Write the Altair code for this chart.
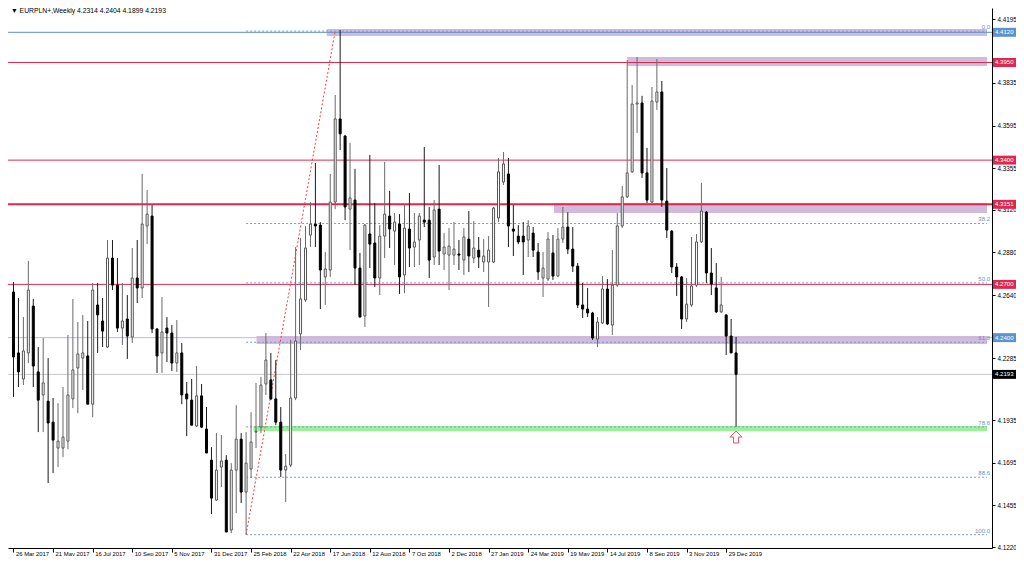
import altair as alt
import pandas as pd

# ---------------- data (EURPLN+ weekly) ----------------
open_ = [4.2657, 4.2314, 4.2167, 4.2314, 4.2578, 4.2207, 4.2077, 4.2042, 4.1924, 4.1778,
         4.1778, 4.1817, 4.2055, 4.2229, 4.2285, 4.2297, 4.2025, 4.2584, 4.2494, 4.2347,
         4.2848, 4.2696, 4.2454, 4.2505, 4.2404, 4.2736, 4.2680, 4.3029, 4.3085, 4.2449,
         4.2314, 4.2454, 4.2426, 4.2257, 4.2314, 4.2083, 4.2048, 4.1902, 4.2072, 4.1885,
         4.1710, 4.1485, 4.1671, 4.1710, 4.1316, 4.1654, 4.1828, 4.1530, 4.1660, 4.1868,
         4.1896, 4.2139, 4.2162, 4.2055, 4.1924, 4.1654, 4.1682, 4.2060, 4.2421, 4.2612,
         4.2978, 4.3040, 4.3034, 4.2742, 4.2781, 4.3164, 4.3632, 4.3536, 4.3124, 4.3175,
         4.2792, 4.2522, 4.2984, 4.2933, 4.2736, 4.2972, 4.3085, 4.3000, 4.3040, 4.2753,
         4.3012, 4.2910, 4.2950, 4.3062, 4.3062, 4.2854, 4.3124, 4.2871, 4.2865, 4.2865,
         4.2871, 4.2837, 4.2955, 4.2848, 4.2893, 4.2826, 4.2826, 4.2826, 4.3074, 4.3277,
         4.3322, 4.3012, 4.2972, 4.2972, 4.2950, 4.2989, 4.2882, 4.2736, 4.2730, 4.2877,
         4.2747, 4.2955, 4.3023, 4.2899, 4.2803, 4.2584, 4.2561, 4.2539, 4.2392, 4.2483,
         4.2674, 4.2471, 4.2696, 4.3029, 4.3193, 4.3334, 4.3716, 4.3722, 4.3328, 4.3164,
         4.3727, 4.3784, 4.3169, 4.3000, 4.2798, 4.2742, 4.2505, 4.2584, 4.2696, 4.2939,
         4.3107, 4.2764, 4.2680, 4.2545, 4.2528, 4.2409, 4.2314]
high = [4.2713, 4.2623, 4.2516, 4.2832, 4.2618, 4.2347, 4.2398, 4.2285, 4.2060, 4.2031,
        4.2122, 4.2415, 4.2618, 4.2488, 4.2528, 4.2494, 4.2708, 4.2708, 4.2623, 4.2950,
        4.2950, 4.2848, 4.2708, 4.2640, 4.2905, 4.2950, 4.3322, 4.3232, 4.3147, 4.2452,
        4.2629, 4.2516, 4.2471, 4.2499, 4.2370, 4.2150, 4.2167, 4.2240, 4.2139, 4.2009,
        4.1783, 4.1862, 4.1851, 4.1738, 4.1693, 4.2020, 4.1862, 4.1868, 4.1980, 4.2145,
        4.2179, 4.2426, 4.2314, 4.2274, 4.2009, 4.1744, 4.2387, 4.2910, 4.2961, 4.3029,
        4.3164, 4.3384, 4.3051, 4.2882, 4.3322, 4.3767, 4.4133, 4.3540, 4.3497, 4.3351,
        4.2877, 4.3040, 4.3429, 4.3158, 4.3034, 4.3390, 4.3227, 4.3102, 4.3096, 4.3147,
        4.3215, 4.3102, 4.3102, 4.3474, 4.3136, 4.3175, 4.3373, 4.2989, 4.3017, 4.3051,
        4.2950, 4.3017, 4.3113, 4.3057, 4.2967, 4.2955, 4.2972, 4.3136, 4.3412, 4.3446,
        4.3412, 4.3147, 4.3034, 4.3051, 4.3062, 4.3023, 4.2933, 4.2882, 4.2995, 4.2978,
        4.3017, 4.3136, 4.3107, 4.3023, 4.2820, 4.2708, 4.2680, 4.2545, 4.2516, 4.2747,
        4.2730, 4.2893, 4.3102, 4.3255, 4.3964, 4.3823, 4.3981, 4.3762, 4.3469, 4.3812,
        4.3970, 4.3846, 4.3356, 4.3006, 4.2820, 4.2747, 4.2736, 4.2967, 4.2984, 4.3272,
        4.3113, 4.2905, 4.2820, 4.2742, 4.2530, 4.2505, 4.2404]
low = [4.2066, 4.2122, 4.2133, 4.2257, 4.2122, 4.1868, 4.1868, 4.1581, 4.1637, 4.1671,
       4.1727, 4.1772, 4.2003, 4.1975, 4.2105, 4.2025, 4.1952, 4.2314, 4.2347, 4.2342,
       4.2668, 4.2432, 4.2359, 4.2280, 4.2370, 4.2595, 4.2623, 4.2927, 4.2426, 4.2201,
       4.2201, 4.2263, 4.2212, 4.2207, 4.2025, 4.1845, 4.1907, 4.1896, 4.1890, 4.1750,
       4.1406, 4.1480, 4.1558, 4.1305, 4.1299, 4.1412, 4.1468, 4.1290, 4.1609, 4.1778,
       4.1862, 4.2077, 4.2048, 4.1907, 4.1615, 4.1474, 4.1671, 4.2048, 4.2330, 4.2601,
       4.2910, 4.2910, 4.2561, 4.2584, 4.2742, 4.3124, 4.3457, 4.3062, 4.2893, 4.2696,
       4.2516, 4.2460, 4.2792, 4.2685, 4.2640, 4.2848, 4.2905, 4.2809, 4.2646, 4.2651,
       4.2798, 4.2798, 4.2809, 4.3023, 4.2736, 4.2809, 4.2809, 4.2781, 4.2668, 4.2809,
       4.2781, 4.2753, 4.2770, 4.2820, 4.2792, 4.2770, 4.2573, 4.2820, 4.3051, 4.3260,
       4.2910, 4.2860, 4.2927, 4.2753, 4.2854, 4.2854, 4.2725, 4.2629, 4.2719, 4.2725,
       4.2742, 4.2933, 4.2871, 4.2770, 4.2567, 4.2511, 4.2516, 4.2387, 4.2347, 4.2477,
       4.2471, 4.2415, 4.2685, 4.3017, 4.3187, 4.3328, 4.3553, 4.3300, 4.3158, 4.3158,
       4.3683, 4.3136, 4.2961, 4.2764, 4.2635, 4.2449, 4.2488, 4.2573, 4.2685, 4.2933,
       4.2708, 4.2640, 4.2539, 4.2539, 4.2302, 4.2314, 4.1899]
close = [4.2291, 4.2207, 4.2325, 4.2668, 4.2240, 4.2048, 4.2145, 4.1919, 4.1823, 4.1817,
         4.1840, 4.2077, 4.2218, 4.2308, 4.2314, 4.2025, 4.2668, 4.2528, 4.2437, 4.2848,
         4.2696, 4.2454, 4.2494, 4.2409, 4.2736, 4.2680, 4.3040, 4.3096, 4.2449, 4.2297,
         4.2432, 4.2426, 4.2257, 4.2314, 4.2077, 4.2055, 4.1907, 4.2072, 4.1896, 4.1750,
         4.1496, 4.1654, 4.1705, 4.1305, 4.1654, 4.1828, 4.1530, 4.1693, 4.1812, 4.1873,
         4.2133, 4.2274, 4.2055, 4.1924, 4.1654, 4.1676, 4.2060, 4.2381, 4.2618, 4.2905,
         4.3040, 4.3029, 4.2781, 4.2787, 4.3164, 4.3632, 4.3548, 4.3136, 4.3187, 4.2792,
         4.2516, 4.3034, 4.2927, 4.2736, 4.2972, 4.3096, 4.3012, 4.3051, 4.2742, 4.3017,
         4.2905, 4.2939, 4.3085, 4.3051, 4.2837, 4.3119, 4.2888, 4.2910, 4.2916, 4.2899,
         4.2865, 4.2967, 4.2860, 4.2905, 4.2854, 4.2860, 4.2893, 4.3130, 4.3334, 4.3379,
         4.3029, 4.3000, 4.2939, 4.2939, 4.3029, 4.2893, 4.2770, 4.2792, 4.2955, 4.2747,
         4.2955, 4.3023, 4.2899, 4.2803, 4.2584, 4.2561, 4.2539, 4.2398, 4.2488, 4.2674,
         4.2477, 4.2696, 4.3029, 4.3193, 4.3328, 4.3716, 4.3722, 4.3328, 4.3175, 4.3733,
         4.3784, 4.3175, 4.3006, 4.2798, 4.2742, 4.2505, 4.2589, 4.2691, 4.2939, 4.3113,
         4.2764, 4.2702, 4.2545, 4.2584, 4.2409, 4.2314, 4.2193]

# x axis: one tick every 8 weekly bars (bar 0 = week of 26 Mar 2017)
x_tick_values = list(range(0, 145, 8))
x_tick_labels = ["26 Mar 2017", "21 May 2017", "16 Jul 2017", "10 Sep 2017", "5 Nov 2017",
                 "31 Dec 2017", "25 Feb 2018", "22 Apr 2018", "17 Jun 2018", "12 Aug 2018",
                 "7 Oct 2018", "2 Dec 2018", "27 Jan 2019", "24 Mar 2019", "19 May 2019",
                 "14 Jul 2019", "8 Sep 2019", "3 Nov 2019", "29 Dec 2019"]
y_tick_values = [4.4195, 4.4075, 4.3835, 4.3715, 4.3595, 4.3475, 4.3355, 4.3240, 4.3120,
                 4.3000, 4.2880, 4.2760, 4.2640, 4.2520, 4.2285, 4.2050, 4.1935, 4.1815,
                 4.1695, 4.1575, 4.1455, 4.1335, 4.1220]

# horizontal levels and their right-side price tags
level_price = [4.4120, 4.3950, 4.3400, 4.3151, 4.2700, 4.2400, 4.2193]
level_kind = ["blue", "red", "red", "red2", "red", "blue2", "price"]

# shaded zones (start bar, bottom, top)
zone_start = [63.3, 124.0, 109.2, 49.1, 48.5]
zone_low = [4.4099, 4.3930, 4.3102, 4.2364, 4.1874]
zone_high = [4.4139, 4.3981, 4.3158, 4.2409, 4.1902]
zone_kind = ["purple", "purple", "purple", "purple", "green"]

# Fibonacci retracement anchors (bar, price)
fib_bar = [47, 65]
fib_price = [4.1290, 4.4127]
fib_ratio = [0.0, 38.2, 50.0, 61.8, 78.6, 88.6, 100.0]

arrow_bar = [146]
arrow_price = [4.1840]

title_text = "▼ EURPLN+,Weekly  4.2314 4.2404 4.1899 4.2193"

# ---------------- layout ----------------
W, H = 984, 540
X_MIN = -0.1
X_MAX = X_MIN + W / 5.0
Y_MIN, Y_MAX = 4.1215, 4.4257
FONT = "Liberation Sans"

xs = alt.Scale(domain=[X_MIN, X_MAX], nice=False, zero=False)
ys = alt.Scale(domain=[Y_MIN, Y_MAX], nice=False, zero=False)

n = len(open_)
candles = pd.DataFrame({"i": list(range(n)), "o": open_, "h": high, "l": low, "c": close})

lab_js = "[" + ",".join("'%s'" % s for s in x_tick_labels) + "]"
x_axis = alt.Axis(values=x_tick_values, labelExpr=lab_js + "[round(datum.value / 8)]",
                  labelAlign="left", labelBaseline="top", labelFont=FONT, labelFontSize=5.9,
                  labelColor="black", tickColor="black", tickSize=4, labelPadding=-2,
                  labelOffset=2, domainColor="black", grid=False, title=None, labelFlush=False,
                  labelOverlap=False)
y_axis = alt.Axis(orient="right", values=y_tick_values, format=".4f", labelFont=FONT,
                  labelFontSize=6.3, labelColor="black", tickColor="black", tickSize=3,
                  labelPadding=2, domainColor="black", grid=False, title=None,
                  labelOverlap=False, labelFlush=False)

kind_colors = {"blue": "#5a93cf", "red": "#e0284f", "red2": "#e0284f", "blue2": "#a9c4e2",
               "price": "#c8c8c8", "purple": "#cdb2d9", "green": "#8ef08e"}
tag_colors = {"blue": "#5a93cf", "red": "#e0284f", "red2": "#e0284f", "blue2": "#5a93cf",
              "price": "#000000"}

levels = pd.DataFrame({"price": level_price, "kind": level_kind})
levels["color"] = [kind_colors[k] for k in level_kind]
levels["tag"] = [tag_colors[k] for k in level_kind]
levels["w"] = [2 if k == "red2" else 1 for k in level_kind]
levels["label"] = ["%.4f" % p for p in level_price]

zones = pd.DataFrame({"start": zone_start, "lo": zone_low, "hi": zone_high, "kind": zone_kind})
zones["end"] = X_MAX
zones["color"] = [kind_colors[k] for k in zone_kind]

f_hi, f_lo = fib_price[1], fib_price[0]
fib = pd.DataFrame({"ratio": fib_ratio})
fib["price"] = [f_hi - (f_hi - f_lo) * r / 100.0 for r in fib_ratio]
fib["start"] = fib_bar[0]
fib["end"] = X_MAX
fib["label"] = ["%.1f" % r for r in fib_ratio]

trend = pd.DataFrame({"i": fib_bar, "p": fib_price})
arrow = pd.DataFrame({"i": arrow_bar, "p": arrow_price})
title_df = pd.DataFrame({"t": [title_text]})

zone_layer = alt.Chart(zones).mark_rect(opacity=0.9).encode(
    x=alt.X("start:Q", scale=xs, axis=x_axis), x2="end:Q",
    y=alt.Y("lo:Q", scale=ys, axis=y_axis), y2="hi:Q",
    color=alt.Color("color:N", scale=None))

level_layer = alt.Chart(levels).mark_rule().encode(
    y=alt.Y("price:Q", scale=ys),
    color=alt.Color("color:N", scale=None),
    strokeWidth=alt.StrokeWidth("w:Q", scale=None))

fib_layer = alt.Chart(fib).mark_rule(strokeDash=[2, 2], color="#7f9cc8").encode(
    x=alt.X("start:Q", scale=xs), x2="end:Q", y=alt.Y("price:Q", scale=ys))

fib_text = alt.Chart(fib).mark_text(align="right", baseline="bottom", dy=-1, font=FONT,
                                    fontSize=6, color="#6f8fc2").encode(
    x=alt.value(W - 2), y=alt.Y("price:Q", scale=ys), text="label:N")

trend_layer = alt.Chart(trend).mark_line(color="#ff3b3b", strokeDash=[2, 2], strokeWidth=1).encode(
    x=alt.X("i:Q", scale=xs), y=alt.Y("p:Q", scale=ys))

wick = alt.Chart(candles).mark_rule(strokeWidth=1).encode(
    x=alt.X("i:Q", scale=xs), y=alt.Y("l:Q", scale=ys), y2="h:Q",
    color=alt.condition("datum.c >= datum.o", alt.value("#6a6a6a"), alt.value("#1a1a1a")))

body = alt.Chart(candles).mark_bar(size=2, strokeWidth=1).encode(
    x=alt.X("i:Q", scale=xs), y=alt.Y("o:Q", scale=ys), y2="c:Q",
    fill=alt.condition("datum.c >= datum.o", alt.value("white"), alt.value("black")),
    stroke=alt.condition("datum.c >= datum.o", alt.value("#555555"), alt.value("black")))

tag_box = alt.Chart(levels).mark_point(
    shape="M-1,-0.39L1,-0.39L1,0.39L-1,0.39Z", size=529, filled=True, opacity=1).encode(
    x=alt.value(W + 12.5), y=alt.Y("price:Q", scale=ys),
    color=alt.Color("tag:N", scale=None))

tag_text = alt.Chart(levels).mark_text(align="left", baseline="middle", font=FONT,
                                       fontSize=6.1, color="white").encode(
    x=alt.value(W + 3), y=alt.Y("price:Q", scale=ys), text="label:N")

arrow_layer = alt.Chart(arrow).mark_point(
    shape="M0,-1L1,0L0.42,0L0.42,1L-0.42,1L-0.42,0L-1,0Z", size=144, filled=False,
    color="#e8506a", strokeWidth=1, opacity=1).encode(
    x=alt.X("i:Q", scale=xs), y=alt.Y("p:Q", scale=ys))

title_layer = alt.Chart(title_df).mark_text(align="left", baseline="top", font=FONT,
                                            fontSize=6.8, color="black").encode(
    x=alt.value(3), y=alt.value(0), text="t:N")

chart = alt.layer(zone_layer, level_layer, fib_layer, trend_layer, wick, body, fib_text,
                  tag_box, tag_text, arrow_layer, title_layer).properties(
    width=W, height=H, background="white",
    padding={"left": 0, "top": 0, "right": 24, "bottom": 8},
    autosize=alt.AutoSizeParams(type="none")
).configure_view(stroke=None)

chart.save("out.html", embed_options={"renderer": "svg", "actions": False})
